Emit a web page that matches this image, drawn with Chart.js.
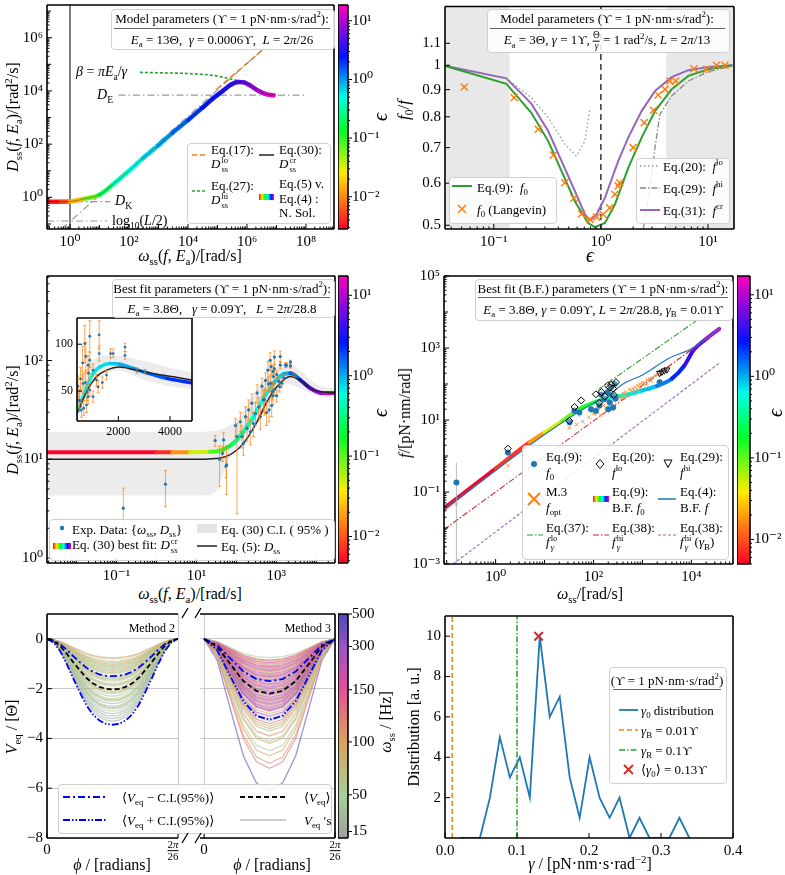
<!DOCTYPE html>
<html>
<head>
<meta charset="utf-8">
<script src="https://cdn.jsdelivr.net/npm/chart.js@4.4.1/dist/chart.umd.min.js"></script>
<style>
  body { margin: 0; background: #fff; }
  #fig { position: relative; width: 785px; height: 875px; overflow: hidden; font-family: "Liberation Serif", "DejaVu Serif", serif; color: #000; }
  #fig canvas { position: absolute; }
  .t { position: absolute; white-space: nowrap; font-size: 13px; line-height: 1; z-index: 5; }
  .l { transform: translateY(-50%); }
  .c { transform: translate(-50%, -50%); }
  .r { transform: translate(-100%, -50%); }
  .rot { transform: translate(-50%, -50%) rotate(-90deg); }
  .box { position: absolute; border: 1px solid #d0d0d0; border-radius: 4px; background: rgba(255,255,255,0.85); z-index: 4; }
  .hl { position: absolute; height: 0; border-top: 1px solid #666; z-index: 5; }
  .sw { position: absolute; z-index: 5; overflow: visible; }
  sub, sup { font-size: 68%; line-height: 0; }
  .ss { display: inline-flex; flex-direction: column; vertical-align: middle; font-size: 66%; line-height: 1.05; margin-left: 1px; }
  .fr { display: inline-flex; flex-direction: column; vertical-align: middle; font-size: 72%; line-height: 1.05; text-align: center; }
  .fr > span:first-child { border-bottom: 1px solid #000; }
</style>
</head>
<body>
<div id="fig"></div>
<script>
// ---------- top left: D_ss vs omega_ss (model, Ea = 13 Theta) ----------
const p1Omega = [0.166, 0.5, 1, 3, 10, 30, 100, 300, 1e3, 3e3, 1e4, 3e4, 7e4, 1.5e5, 3e5, 5e5, 8e5, 1.3e6, 2.5e6, 4.5e6, 8e6];
const p1D     = [0.69, 0.69, 0.70, 0.88, 1.25, 3.2, 10, 30, 91, 270, 800, 2300, 5200, 10000, 17800, 21900, 20900, 15800, 10000, 7600, 6900];
const p1Eps   = [0.003, 0.004, 0.008, 0.03, 0.13, 0.3, 0.45, 0.6, 0.8, 1.1, 1.6, 2.2, 2.6, 3.0, 3.4, 4, 5, 6.5, 9, 13, 17];
const p1LoW = [9.3e4, 3.5e6], p1LoD = [11500, 3.6e5];
const p1HiW = [234, 2.5e4, 1e5, 2.5e5, 5e5], p1HiD = [50000, 42700, 36300, 28800, 24000];
const p1DiagW = [0.52, 4e6], p1DiagD = [0.065, 4.2e5];
const p1DeW = [44, 1e8], p1De = 7000;
const p1DkW = [0.166, 23], p1Dk = 0.69;
const p1LW = [0.166, 18], p1L = 0.129;

// ---------- top right: f0/f vs epsilon ----------
const p2GreenE = [0.0336, 0.131, 0.224, 0.322, 0.429, 0.571, 0.761, 0.879, 1.09, 1.35, 1.80, 2.40, 3.20, 4.57, 6.55, 10.1, 16.9];
const p2GreenF = [1.0, 0.923, 0.814, 0.720, 0.632, 0.555, 0.505, 0.496, 0.505, 0.547, 0.641, 0.731, 0.820, 0.901, 0.955, 0.983, 1.0];
const p2CrE = [0.0336, 0.131, 0.224, 0.322, 0.429, 0.571, 0.709, 0.789, 0.910, 1.09, 1.45, 1.80, 2.40, 3.20, 4.57, 6.55, 10.1, 16.9];
const p2CrF = [1.0, 0.945, 0.847, 0.752, 0.660, 0.580, 0.524, 0.511, 0.524, 0.563, 0.660, 0.731, 0.820, 0.895, 0.950, 0.979, 0.993, 1.0];
const p2LoE = [0.131, 0.224, 0.322, 0.461, 0.591, 0.709, 0.789];
const p2LoF = [0.945, 0.869, 0.797, 0.710, 0.675, 0.720, 0.826];
const p2HiE = [2.48, 2.87, 3.20, 3.56, 4.57, 6.55, 10.1, 16.9];
const p2HiF = [0.49, 0.588, 0.700, 0.809, 0.875, 0.934, 0.973, 0.996];
const p2LangE = [0.053, 0.155, 0.26, 0.36, 0.46, 0.56, 0.66, 0.79, 0.91, 1.05, 1.21, 1.35, 1.45, 1.5, 2.0, 2.54, 3.1, 3.43, 3.97, 4.4, 5.0, 7.4, 9.7, 12, 14.4];
const p2LangF = [0.910, 0.869, 0.758, 0.678, 0.601, 0.562, 0.525, 0.513, 0.518, 0.524, 0.539, 0.572, 0.593, 0.601, 0.700, 0.780, 0.823, 0.879, 0.901, 0.934, 0.934, 0.985, 0.983, 1.0, 1.0];
const p2SpanLo = [0.035, 0.141], p2SpanHi = [4.07, 17.5];

// ---------- middle left: best fit D_ss vs omega_ss ----------
const p3FitW = [0.00182, 0.1, 1, 2.5, 7, 22, 48, 85, 151, 269, 479, 851, 1514, 2239, 3981, 7079, 15100, 29500];
const p3FitD = [11.8, 11.8, 11.8, 11.8, 11.8, 11.9, 12.6, 14.6, 19.1, 27, 41.5, 59, 73, 74.5, 63.6, 52.5, 46.8, 46.8];
const p3FitEps = [0.004, 0.004, 0.005, 0.009, 0.03, 0.08, 0.15, 0.25, 0.35, 0.5, 0.6, 0.7, 0.9, 1.1, 2.5, 5, 10, 14];
const p3EqW = [0.00182, 10, 48, 105, 186, 331, 589, 1047, 1698, 2239, 3981, 8511, 29500];
const p3EqD = [10, 10, 10.5, 12.5, 16.3, 24, 38.5, 54.6, 66, 69, 63, 50.5, 46.8];
const p3BandW  = [0.00182, 10, 27, 56, 100, 160, 316, 631, 1000, 1995, 3981, 10000, 29500];
const p3BandUp = [19, 19, 19.5, 21, 25, 32, 50, 72, 85, 95, 80, 58, 52];
const p3BandLo = [4.3, 4.3, 4.5, 8.5, 13, 17, 22, 35, 45, 58, 52, 44, 42];
const p3ExpW  = [0.148, 1.68, 29.5, 38, 45, 48, 55, 57, 95, 104, 126, 138, 151, 170, 186, 204, 224, 245, 269, 302, 331, 363, 398, 437, 479, 505, 537, 571, 617, 633, 661, 700, 724, 741, 766, 794, 828, 828, 851, 894, 894, 894, 1022, 1022, 1155, 1217, 1256, 1259, 1380, 1544, 1698, 1800, 2256, 2256, 2711, 3033];
const p3ExpD  = [3.2, 5.6, 15.5, 10, 11.5, 15.7, 8.5, 8.8, 22, 17, 24, 17, 14.5, 27, 20.6, 31.6, 19, 37, 23, 29, 47, 34, 27, 55, 40, 40, 63, 29.7, 80, 58, 31.6, 100.7, 59, 87, 35, 48.5, 77.6, 44, 69, 108.5, 83, 51, 72.3, 44, 61.7, 54.5, 110, 90, 59, 67, 90, 90, 97, 88, 72, 70.5];
const p3ExpLo = [1.2, 3.3, 13.5, 5.3, 9.5, 12.5, 6.5, 4.4, 17, 2.8, 19, 13, 11, 21, 15, 25, 14, 29, 17, 22, 37, 26, 20, 43, 30, 28, 50, 22, 62, 48, 24, 80, 48, 72, 27, 40, 68, 36, 60, 92, 75, 44, 66, 38, 55, 48, 95, 82, 53, 62, 85, 86, 92, 84, 69, 68];
const p3ExpHi = [5.1, 7.7, 17.5, 13.6, 13.5, 18.5, 10.5, 13.7, 26, 23, 30, 22, 19, 34, 27, 40, 25, 46, 30, 38, 57, 42, 35, 66, 50, 52, 75, 38, 98, 68, 40, 120, 70, 102, 43, 57, 88, 52, 78, 125, 91, 58, 79, 50, 68, 61, 125, 98, 65, 72, 95, 95, 101, 92, 75, 73];
// inset (linear axes)
const p3InFitW = [440, 633, 828, 1022, 1283, 1672, 2061, 2578, 3100, 3878, 4850];
const p3InFitD = [29.7, 43.9, 58.1, 68.8, 75.8, 79.4, 78.7, 74.1, 69.4, 63.5, 58.8];
const p3InFitEps = [0.5, 0.55, 0.6, 0.65, 0.7, 0.8, 0.9, 1.1, 1.5, 2.0, 2.5];
const p3InEqW = [440, 765, 1155, 1544, 2061, 2578, 3230, 4135, 4850];
const p3InEqD = [27.9, 49.2, 65.2, 72.3, 75.8, 73, 69.4, 65.2, 61.7];
const p3InBandW = [400, 700, 1000, 1500, 2000, 3000, 4000, 4850];
const p3InBandUp = [45, 70, 82, 88, 88, 82, 75, 70];
const p3InBandLo = [18, 40, 58, 68, 72, 62, 55, 52];

// ---------- middle right: f vs omega_ss ----------
const p4FitW = [0.088, 1, 4.9, 10, 23, 51, 112, 182, 316, 537, 1000, 2000, 4000, 7080, 11200, 20000, 37000];
const p4FitF = [0.035, 0.45, 2.4, 4.5, 9.5, 20, 32, 40, 46, 52, 66, 89, 141, 316, 891, 1780, 3390];
const p4FitEps = [0.004, 0.005, 0.012, 0.03, 0.07, 0.12, 0.2, 0.35, 0.5, 0.6, 0.8, 1.0, 1.8, 3, 4.5, 8, 15];
const p4BfW = [0.088, 112, 182, 400, 1000, 3550, 10000, 37000];
const p4BfF = [0.035, 32, 42, 100, 178, 525, 955, 3390];
const p4GloW = [126, 15800], p4GloF = [71, 7080];
const p4GhiW = [0.088, 10000], p4GhiF = [0.0091, 891];
const p4GbW = [0.135, 37000], p4GbF = [0.001, 380];
const p4F0W  = [0.158, 1.78, 32.4, 40.7, 51.3, 89, 112, 132, 145, 166, 195, 214, 229, 245, 269, 200, 251, 282, 2240];
const p4F0F  = [0.184, 1.26, 8.7, 18.2, 16.2, 20, 17.8, 25.1, 50.1, 38, 58.9, 30.9, 81.3, 47.9, 100, 20, 22.4, 39.8, 112];
const p4F0Lo = [0.0005, 0.9, 6.5, 14, 12, 15, 13, 19, 38, 29, 45, 23, 62, 36, 77, 15, 17, 30, 90];
const p4F0Hi = [0.66, 1.7, 11, 23, 21, 26, 23, 32, 65, 49, 76, 40, 105, 62, 130, 26, 29, 52, 135];
const p4LoW = [1.78, 32, 41, 56, 112, 145, 195, 229, 288, 250, 214, 170, 130, 260];
const p4LoF = [1.6, 9.5, 23, 35, 52, 60, 91, 95, 112, 75, 80, 45, 30, 50];
const p4HiW = [2240, 2500, 2800, 3160];
const p4HiF = [200, 215, 235, 250];
const p4OptW = [0.158, 1.78, 32, 45, 60, 80, 100, 120, 140, 160, 180, 200, 230, 260, 300, 330, 360, 400, 450, 500, 550, 600, 650, 700, 800, 900, 1000, 1100, 1250, 1400, 1600, 1800, 2000, 2300, 2600, 3000, 500, 700, 900, 1200, 1500, 400];
const p4OptF = [0.046, 0.54, 6, 7.5, 9, 12, 15, 20, 14, 25, 22, 30, 28, 35, 40, 45, 38, 55, 60, 50, 70, 65, 75, 80, 90, 100, 110, 105, 130, 140, 150, 170, 180, 200, 230, 260, 45, 60, 75, 95, 120, 42];

// ---------- bottom left: V_eq wells ----------
const L26 = 2 * Math.PI / 26;
const p5ProfL = [0, 0.04, 0.14, 0.29, 0.46, 0.62, 0.77, 0.88, 0.95, 0.99, 1, 0.99, 0.95, 0.88, 0.77, 0.62, 0.46, 0.29, 0.14, 0.04, 0];
const p5ProfR = [0, 0.14, 0.46, 0.77, 0.95, 1, 0.95, 0.77, 0.46, 0.14, 0];
const p5M2Depth = [-0.75, -0.8, -0.9, -0.95, -1.0, -1.05, -1.1, -1.15, -1.2, -1.25, -1.3, -1.35, -1.4, -1.5, -1.55, -1.6, -1.65, -1.7, -1.8, -1.85, -1.9, -2.0, -2.1, -2.15, -2.2, -2.3, -2.4, -2.45, -2.5, -2.6, -2.7, -2.75, -2.8, -2.9, -3.0, -3.1, -3.2, -3.3];
const p5M2Freq  = [95, 60, 90, 55, 100, 45, 85, 60, 50, 95, 40, 70, 55, 100, 45, 65, 90, 50, 40, 80, 55, 35, 95, 45, 60, 30, 50, 85, 40, 25, 60, 35, 20, 45, 25, 30, 20, 18];
const p5M3Depth = [-0.75, -0.85, -0.9, -0.95, -1.0, -1.05, -1.1, -1.15, -1.2, -1.25, -1.3, -1.35, -1.4, -1.45, -1.5, -1.55, -1.6, -1.65, -1.7, -1.75, -1.8, -1.85, -1.9, -1.95, -2.0, -2.05, -2.1, -2.15, -2.2, -2.25, -2.3, -2.35, -2.4, -2.45, -2.5, -2.55, -2.6, -2.65, -2.7, -2.75, -2.8, -2.85, -2.9, -3.0, -3.1, -3.2, -3.3, -3.4, -3.5, -3.6, -3.7, -3.9, -4.1, -4.2, -4.5, -4.7, -5.0, -5.2, -6.1];
const p5M3Freq  = [50, 150, 100, 200, 130, 90, 250, 170, 110, 300, 140, 80, 200, 120, 350, 160, 100, 280, 140, 60, 220, 180, 110, 320, 150, 90, 400, 130, 240, 170, 75, 300, 120, 190, 260, 100, 350, 150, 60, 230, 120, 420, 180, 90, 300, 110, 50, 140, 85, 95, 60, 110, 45, 100, 55, 100, 110, 130, 450];
const p5Mean = [-2.03, -2.2], p5CiLo = [-1.5, -1.7], p5CiHi = [-3.45, -3.25];
const HZ_TICKS = [15, 50, 100, 150, 300, 500];
const HZ_FRAC  = [0.029, 0.193, 0.429, 0.662, 0.855, 1.0];

// ---------- bottom right: gamma_0 distribution ----------
const p6Gamma = [0.0208, 0.0347, 0.0485, 0.0624, 0.0762, 0.0901, 0.1039, 0.1178, 0.1316, 0.1455, 0.1593, 0.1732, 0.187, 0.2009, 0.2147, 0.2286, 0.2424, 0.2563, 0.2701, 0.284, 0.2978, 0.3117, 0.3255, 0.3394];
const p6Count = [0, 0, 0, 2, 5, 3, 4, 2, 10, 6, 7, 3, 1, 4, 2, 1, 2, 0, 1, 0, 0, 0, 1, 0];
const p6GammaB = 0.01, p6GammaR = 0.1, p6Mean = 0.13;

// ===================================================================
Chart.defaults.font.family = '"Liberation Serif", "DejaVu Serif", serif';
Chart.defaults.font.size = 15;
Chart.defaults.color = '#000';
Chart.defaults.animation = false;
Chart.defaults.events = [];
Chart.defaults.plugins.legend.display = false;
Chart.defaults.plugins.tooltip.enabled = false;
Chart.defaults.elements.point.radius = 0;
Chart.defaults.elements.point.hoverRadius = 0;

const SUPS = {'-': '⁻', '0': '⁰', '1': '¹', '2': '²', '3': '³', '4': '⁴', '5': '⁵', '6': '⁶', '7': '⁷', '8': '⁸', '9': '⁹'};
function pow10(v) {
    const e = Math.round(Math.log10(v));
    return '10' + String(e).split('').map(ch => SUPS[ch]).join('');
}
function axis(type, min, max, ticks, fmt, size) {
    return {
        type: type, min: min, max: max,
        grid: {display: false, drawTicks: false}, border: {display: false},
        afterBuildTicks: s => { s.ticks = ticks.map(v => ({value: v})); },
        ticks: {callback: fmt, padding: 4, maxRotation: 0, autoSkip: false, color: '#000', font: {size: size || 15}}
    };
}
const logAx = (min, max, ticks) => axis('logarithmic', min, max, ticks, v => pow10(v));

function xy(xs, ys) { return xs.map((x, i) => ({x: x, y: ys[i]})); }
function line(xs, ys, color, width, dash, extra) {
    return Object.assign({data: xy(xs, ys), borderColor: color, backgroundColor: color, borderWidth: width,
        borderDash: dash || [], pointRadius: 0, fill: false, order: 5}, extra || {});
}
function marks(xs, ys, style, radius, color, extra) {
    return Object.assign({data: xy(xs, ys), showLine: false, pointStyle: style, pointRadius: radius,
        borderColor: color, backgroundColor: color, borderWidth: 1, order: 1}, extra || {});
}

// colour maps
const RAINBOW = [[0, '#ff0029'], [0.25, '#ffeb00'], [0.44, '#00ff28'], [0.59, '#00ffe6'], [0.77, '#0014ff'], [1, '#ff00bf']];
const HZMAP = [[0, '#a0a0a0'], [0.19, '#a6cf98'], [0.43, '#d9a15f'], [0.55, '#e07a75'], [0.66, '#e5509a'], [0.85, '#9a55c2'], [1, '#4b4bb8']];
function hex(h) { return [1, 3, 5].map(i => parseInt(h.substr(i, 2), 16)); }
function sample(stops, f, alpha) {
    f = Math.min(1, Math.max(0, f));
    let k = 0;
    while (k < stops.length - 2 && f > stops[k + 1][0]) k++;
    const t = (f - stops[k][0]) / (stops[k + 1][0] - stops[k][0]);
    const a = hex(stops[k][1]), b = hex(stops[k + 1][1]);
    const c = a.map((v, i) => Math.round(v + (b[i] - v) * t));
    return 'rgba(' + c[0] + ',' + c[1] + ',' + c[2] + ',' + (alpha == null ? 1 : alpha) + ')';
}
function epsColor(lo, hi) {
    return e => sample(RAINBOW, (Math.log10(e) - Math.log10(lo)) / (Math.log10(hi) - Math.log10(lo)));
}
function hzFrac(f) {
    if (f <= HZ_TICKS[0]) return HZ_FRAC[0] * f / HZ_TICKS[0];
    for (let k = 0; k < HZ_TICKS.length - 1; k++) {
        if (f <= HZ_TICKS[k + 1]) return HZ_FRAC[k] + (HZ_FRAC[k + 1] - HZ_FRAC[k]) * (f - HZ_TICKS[k]) / (HZ_TICKS[k + 1] - HZ_TICKS[k]);
    }
    return 1;
}
function rainbowLine(xs, ys, eps, lo, hi, width) {
    const col = epsColor(lo, hi);
    return line(xs, ys, col(eps[0]), width, [], {
        cubicInterpolationMode: 'monotone', borderCapStyle: 'round', order: 4,
        segment: {borderColor: c => col(Math.sqrt(eps[c.p0DataIndex] * eps[c.p1DataIndex]))}
    });
}

// frame (spines) + inward ticks
const framePlugin = {
    id: 'frame',
    defaults: {sides: 'ltrb', width: 1.6, cb: false, minor: 'xy', white: false, noTicks: ''},
    beforeDatasetsDraw(chart, args, o) {
        if (!o.white) return;
        const a = chart.chartArea;
        chart.ctx.save();
        chart.ctx.fillStyle = '#fff';
        chart.ctx.fillRect(a.left, a.top, a.right - a.left, a.bottom - a.top);
        chart.ctx.restore();
    },
    afterDraw(chart, args, o) {
        const ctx = chart.ctx, a = chart.chartArea;
        ctx.save();
        ctx.strokeStyle = '#000';
        ctx.lineWidth = 1;
        Object.values(chart.scales).forEach(s => {
            if (!s.options.display) return;
            const horiz = s.isHorizontal();
            const id = horiz ? 'x' : 'y';
            if (o.noTicks.indexOf(id) >= 0) return;
            const vals = s.ticks.map(t => [t.value, 5]);
            if (s.type === 'logarithmic' && o.minor.indexOf(id) >= 0) {
                const majors = new Set(s.ticks.map(t => Math.round(Math.log10(t.value))));
                const e0 = Math.floor(Math.log10(s.min)), e1 = Math.ceil(Math.log10(s.max));
                for (let e = e0; e <= e1; e++) {
                    for (let m = 1; m < 10; m++) {
                        if (m === 1 && majors.has(e)) continue;
                        vals.push([m * Math.pow(10, e), m === 1 ? 4 : 2.5]);
                    }
                }
            }
            vals.forEach(([v, len]) => {
                if (v < s.min * 0.9999 || v > s.max * 1.0001) return;
                const p = s.getPixelForValue(v);
                ctx.beginPath();
                if (horiz) { ctx.moveTo(p, a.bottom); ctx.lineTo(p, a.bottom - len); }
                else if (o.cb) { ctx.moveTo(a.right, p); ctx.lineTo(a.right + len * 0.8, p); }
                else { ctx.moveTo(a.left, p); ctx.lineTo(a.left + len, p); }
                ctx.stroke();
            });
        });
        ctx.lineWidth = o.width;
        ctx.beginPath();
        if (o.sides.indexOf('l') >= 0) { ctx.moveTo(a.left, a.top); ctx.lineTo(a.left, a.bottom); }
        if (o.sides.indexOf('r') >= 0) { ctx.moveTo(a.right, a.top); ctx.lineTo(a.right, a.bottom); }
        if (o.sides.indexOf('t') >= 0) { ctx.moveTo(a.left, a.top); ctx.lineTo(a.right, a.top); }
        if (o.sides.indexOf('b') >= 0) { ctx.moveTo(a.left, a.bottom); ctx.lineTo(a.right, a.bottom); }
        ctx.stroke();
        ctx.restore();
    }
};
// vertical error bars taken from dataset.errLo / dataset.errHi
const errPlugin = {
    id: 'errbars',
    beforeDatasetDraw(chart, args) {
        const ds = chart.data.datasets[args.index];
        if (!ds.errLo) return;
        const xs = chart.scales[args.meta.xAxisID], ys = chart.scales[args.meta.yAxisID];
        const ctx = chart.ctx, a = chart.chartArea;
        ctx.save();
        ctx.beginPath();
        ctx.rect(a.left, a.top, a.right - a.left, a.bottom - a.top);
        ctx.clip();
        ctx.strokeStyle = ds.errColor;
        ctx.lineWidth = 1;
        ds.data.forEach((p, i) => {
            const x = xs.getPixelForValue(p.x);
            const y1 = ys.getPixelForValue(ds.errLo[i]), y2 = ys.getPixelForValue(ds.errHi[i]);
            ctx.beginPath();
            ctx.moveTo(x, y1); ctx.lineTo(x, y2);
            if (ds.errCap) {
                ctx.moveTo(x - ds.errCap, y1); ctx.lineTo(x + ds.errCap, y1);
                ctx.moveTo(x - ds.errCap, y2); ctx.lineTo(x + ds.errCap, y2);
            }
            ctx.stroke();
        });
        ctx.restore();
    }
};
Chart.register(framePlugin, errPlugin);

const fig = document.getElementById('fig');
// places a canvas so that the plot area lands on rect (page pixels)
function mk(rect, pad, cfg) {
    const cv = document.createElement('canvas');
    const w = rect.r - rect.l + pad.l + pad.r, h = rect.b - rect.t + pad.t + pad.b;
    cv.width = w; cv.height = h;
    cv.style.left = (rect.l - pad.l) + 'px';
    cv.style.top = (rect.t - pad.t) + 'px';
    cv.style.width = w + 'px';
    cv.style.height = h + 'px';
    fig.appendChild(cv);
    const o = cfg.options;
    o.responsive = false;
    o.animation = false;
    let yl = false, yr = false, xb = false;
    for (const [id, s] of Object.entries(o.scales)) {
        if (s.display === false) continue;
        if (id[0] === 'x') {
            xb = true;
            s.afterFit = sc => { sc.height = pad.b; sc.paddingLeft = 0; sc.paddingRight = 0; };
        } else if (s.position === 'right') {
            yr = true;
            s.afterFit = sc => { sc.width = pad.r; sc.paddingTop = 0; sc.paddingBottom = 0; };
        } else {
            yl = true;
            s.afterFit = sc => { sc.width = pad.l; sc.paddingTop = 0; sc.paddingBottom = 0; };
        }
    }
    o.layout = {padding: {left: yl ? 0 : pad.l, right: yr ? 0 : pad.r, top: pad.t, bottom: xb ? 0 : pad.b}};
    return new Chart(cv, cfg);
}
function grad(chart, stops) {
    const a = chart.chartArea;
    if (!a) return '#888';
    const g = chart.ctx.createLinearGradient(0, a.bottom, 0, a.top);
    stops.forEach(s => g.addColorStop(s[0], s[1]));
    return g;
}
function colorbar(rect, yScale, stops) {
    yScale.position = 'right';
    return mk(rect, {l: 0, t: 10, r: 40, b: 10}, {
        type: 'bar',
        data: {labels: ['c'], datasets: [{data: [[yScale.min, yScale.max]], barPercentage: 1, categoryPercentage: 1,
            borderWidth: 0, backgroundColor: c => grad(c.chart, stops)}]},
        options: {scales: {x: {display: false}, y: yScale}, plugins: {frame: {cb: true, width: 1.6, minor: 'y'}}}
    });
}

const GRAYDD = [7, 3, 1.5, 3];

// ---------- panel 1 ----------
mk({l: 47, t: 5, r: 334, b: 229}, {l: 40, t: 5, r: 4, b: 24}, {
    type: 'line',
    data: {datasets: [
        line([1, 1], [0.0646, 1.7e7], '#000', 1, [], {order: 9}),
        line(p1LW, [p1L, p1L], '#999', 1.2, GRAYDD),
        line(p1DkW, [p1Dk, p1Dk], '#999', 1.2, GRAYDD),
        line(p1DeW, [p1De, p1De], '#999', 1.2, GRAYDD),
        line(p1DiagW, p1DiagD, '#999', 1.2, GRAYDD),
        line(p1HiW, p1HiD, '#2ca02c', 1.6, [3, 2], {cubicInterpolationMode: 'monotone'}),
        line(p1LoW, p1LoD, '#ff7f0e', 1.6, [6, 3]),
        rainbowLine(p1Omega, p1D, p1Eps, 0.00282, 18.6, 4.5),
        line(p1Omega, p1D, 'rgba(0,0,0,0.45)', 0.8, [], {cubicInterpolationMode: 'monotone', order: 3})
    ]},
    options: {scales: {x: logAx(0.166, 8.9e8, [1, 1e2, 1e4, 1e6, 1e8]), y: logAx(0.0646, 1.7e7, [1, 1e2, 1e4, 1e6])}}
});
colorbar({l: 338, t: 5, r: 348, b: 229}, logAx(0.00282, 18.6, [0.01, 0.1, 1, 10]), RAINBOW);

// ---------- panel 2 ----------
mk({l: 445, t: 5, r: 734, b: 229}, {l: 45, t: 5, r: 10, b: 24}, {
    type: 'line',
    data: {datasets: [
        line(p2SpanLo, [1.3, 1.3], '#e8e8e8', 0, [], {fill: 'start', order: 20}),
        line(p2SpanHi, [1.3, 1.3], '#e8e8e8', 0, [], {fill: 'start', order: 20}),
        line([1, 1], [0.49, 1.3], '#000', 1.2, [6, 4], {order: 8}),
        line(p2LoE, p2LoF, '#999', 1.3, [1.5, 2.5]),
        line(p2HiE, p2HiF, '#888', 1.3, [6, 2, 1.5, 2]),
        line(p2GreenE, p2GreenF, '#2ca02c', 2),
        line(p2CrE, p2CrF, '#9467bd', 2),
        marks(p2LangE, p2LangF, 'crossRot', 5, '#ff7f0e', {borderWidth: 1.5})
    ]},
    options: {
        scales: {
            x: logAx(0.035, 17.5, [0.1, 1, 10]),
            y: axis('logarithmic', 0.492, 1.29, [0.5, 0.6, 0.7, 0.8, 0.9, 1, 1.1], v => String(v))
        },
        plugins: {frame: {minor: 'x'}}
    }
});

// ---------- panel 3 ----------
const expDots = (w, d, r) => marks(w, d, 'circle', r, '#1f77b4', {borderWidth: 0,
    errLo: p3ExpLo, errHi: p3ExpHi, errColor: 'rgba(255,127,14,0.7)', errCap: 1.5});
mk({l: 47, t: 276, r: 335, b: 563}, {l: 40, t: 8, r: 6, b: 22}, {
    type: 'line',
    data: {datasets: [
        line(p3BandW, p3BandUp, 'rgba(0,0,0,0)', 0, [], {fill: '+1', backgroundColor: 'rgba(210,210,210,0.42)', order: 20, cubicInterpolationMode: 'monotone'}),
        line(p3BandW, p3BandLo, 'rgba(0,0,0,0)', 0, [], {order: 20, cubicInterpolationMode: 'monotone'}),
        rainbowLine(p3FitW, p3FitD, p3FitEps, 0.00468, 17.4, 4),
        line(p3EqW, p3EqD, '#222', 1.5, [], {cubicInterpolationMode: 'monotone', order: 3}),
        expDots(p3ExpW, p3ExpD, 1.6)
    ]},
    options: {scales: {x: logAx(0.00182, 29500, [0.1, 10, 1000]), y: logAx(0.89, 719, [1, 10, 100])}}
});
mk({l: 77, t: 318, r: 192, b: 421}, {l: 28, t: 4, r: 8, b: 16}, {
    type: 'line',
    data: {datasets: [
        line(p3InBandW, p3InBandUp, 'rgba(0,0,0,0)', 0, [], {fill: '+1', backgroundColor: 'rgba(210,210,210,0.42)', order: 20, cubicInterpolationMode: 'monotone'}),
        line(p3InBandW, p3InBandLo, 'rgba(0,0,0,0)', 0, [], {order: 20, cubicInterpolationMode: 'monotone'}),
        rainbowLine(p3InFitW, p3InFitD, p3InFitEps, 0.00468, 17.4, 3.5),
        line(p3InEqW, p3InEqD, '#222', 1.5, [], {cubicInterpolationMode: 'monotone', order: 3}),
        expDots(p3ExpW, p3ExpD, 1.4)
    ]},
    options: {
        scales: {
            x: axis('linear', 400, 4850, [2000, 4000], v => String(v), 12),
            y: axis('linear', 18, 128, [50, 100], v => String(v), 12)
        },
        plugins: {frame: {white: true, width: 1.6}}
    }
});
colorbar({l: 338, t: 276, r: 348, b: 563}, logAx(0.00468, 17.4, [0.01, 0.1, 1, 10]), RAINBOW);

// ---------- panel 4 ----------
mk({l: 444, t: 276, r: 733, b: 564}, {l: 44, t: 10, r: 6, b: 22}, {
    type: 'line',
    data: {datasets: [
        line(p4GbW, p4GbF, '#9467bd', 1.1, [3, 2]),
        line(p4GhiW, p4GhiF, '#d62728', 1.1, [6, 2, 1.5, 2]),
        line(p4GloW, p4GloF, '#2ca02c', 1.1, [6, 2, 1.5, 2]),
        rainbowLine(p4FitW, p4FitF, p4FitEps, 0.005, 17, 4),
        line(p4BfW, p4BfF, '#1f77b4', 1.2, [], {cubicInterpolationMode: 'monotone', order: 3}),
        marks(p4OptW, p4OptF, 'crossRot', 2.5, 'rgba(255,127,14,0.75)', {order: 2}),
        marks(p4F0W, p4F0F, 'circle', 3, '#1f77b4', {borderWidth: 0, errLo: p4F0Lo, errHi: p4F0Hi, errColor: 'rgba(170,170,170,0.8)', order: 1}),
        marks(p4LoW, p4LoF, 'rectRot', 3.5, '#000', {backgroundColor: 'rgba(255,255,255,0.2)', order: 0}),
        marks(p4HiW, p4HiF, 'triangle', 3.5, '#000', {backgroundColor: 'rgba(255,255,255,0.2)', rotation: 180, order: 0})
    ]},
    options: {scales: {x: logAx(0.0881, 70800, [1, 100, 10000]), y: logAx(0.001, 1e5, [1e-3, 0.1, 10, 1e3, 1e5])}}
});
colorbar({l: 737, t: 276, r: 750, b: 564}, logAx(0.005, 17, [0.01, 0.1, 1, 10]), RAINBOW);

// ---------- panel 5 ----------
const phiL = p5ProfL.map((_, i) => L26 * i / 20);
const phiR = p5ProfR.map((_, i) => L26 * i / 10);
function wells(depths, freqs, phi, prof) {
    return depths.map((d, k) => line(phi, prof.map(v => v * d), sample(HZMAP, hzFrac(freqs[k]), 0.6), 1.3, [], {order: 6}));
}
function meanLines(k, phi, prof) {
    return [
        line(phi, prof.map(v => v * p5CiLo[k]), '#0000ff', 1.8, [7, 3, 2, 3], {order: 2}),
        line(phi, prof.map(v => v * p5CiHi[k]), '#0000ff', 1.8, [7, 2, 1.5, 2, 1.5, 2], {order: 2}),
        line(phi, prof.map(v => v * p5Mean[k]), '#000', 1.8, [5, 3], {order: 1})
    ];
}
function p5Scales(xmin, yTicks) {
    const x = axis('linear', xmin, L26, [0, L26], () => '');
    x.ticks.display = false;
    x.grid = {display: true, color: '#c8c8c8', drawTicks: false};
    const y = axis('linear', -8, 1, [-8, -6, -4, -2, 0], v => String(v).replace('-', '−'));
    y.grid = {display: true, color: '#c8c8c8', drawTicks: false};
    if (!yTicks) y.ticks.display = false;
    return {x: x, y: y};
}
mk({l: 47, t: 614, r: 178, b: 838}, {l: 36, t: 4, r: 2, b: 4}, {
    type: 'line',
    data: {datasets: wells(p5M2Depth, p5M2Freq, phiL, p5ProfL).concat(meanLines(0, phiL, p5ProfL))},
    options: {scales: p5Scales(0, true), plugins: {frame: {sides: 'ltb'}}}
});
mk({l: 200, t: 614, r: 335, b: 838}, {l: 0, t: 4, r: 2, b: 4}, {
    type: 'line',
    data: {datasets: wells(p5M3Depth, p5M3Freq, phiR, p5ProfR).concat(meanLines(1, phiR, p5ProfR))},
    options: {scales: p5Scales(-0.0075, false), plugins: {frame: {sides: 'rtb', noTicks: 'y'}}}
});
colorbar({l: 338, t: 614, r: 348, b: 838},
    axis('linear', 0, 1, HZ_FRAC, v => String(HZ_TICKS[HZ_FRAC.indexOf(v)])), HZMAP);

// ---------- panel 6 ----------
mk({l: 445, t: 613, r: 733, b: 838}, {l: 45, t: 5, r: 15, b: 22}, {
    type: 'line',
    data: {datasets: [
        line([p6GammaB, p6GammaB], [0, 11], '#ff7f0e', 1.5, [5, 3]),
        line([p6GammaR, p6GammaR], [0, 11], '#2ca02c', 1.5, [6, 2, 1.5, 2]),
        line(p6Gamma, p6Count, '#1f77b4', 1.8),
        marks([p6Mean], [10], 'crossRot', 6, '#d62728', {borderWidth: 2})
    ]},
    options: {scales: {
        x: axis('linear', 0, 0.4, [0, 0.1, 0.2, 0.3, 0.4], v => v.toFixed(1)),
        y: axis('linear', 0, 11, [2, 4, 6, 8, 10], v => String(v))
    }}
});

// ===================================================================
// text, legends and annotation boxes
function T(x, y, html, cls, size) {
    const d = document.createElement('div');
    d.className = 't ' + (cls || 'l');
    d.style.left = x + 'px';
    d.style.top = y + 'px';
    if (size) d.style.fontSize = size + 'px';
    d.innerHTML = html;
    fig.appendChild(d);
}
function B(x, y, w, h) {
    const d = document.createElement('div');
    d.className = 'box';
    Object.assign(d.style, {left: x + 'px', top: y + 'px', width: w + 'px', height: h + 'px'});
    fig.appendChild(d);
}
function HL(x, y, w) {
    const d = document.createElement('div');
    d.className = 'hl';
    Object.assign(d.style, {left: x + 'px', top: y + 'px', width: w + 'px'});
    fig.appendChild(d);
}
function S(x, y, w, h, inner) {
    const ns = 'http://www.w3.org/2000/svg';
    const s = document.createElementNS(ns, 'svg');
    s.setAttribute('class', 'sw');
    s.setAttribute('width', w); s.setAttribute('height', h);
    s.style.left = x + 'px'; s.style.top = y + 'px';
    s.innerHTML = inner;
    fig.appendChild(s);
}
const ln = (w, color, dash, lw) => '<line x1="0" y1="3" x2="' + w + '" y2="3" stroke="' + color + '" stroke-width="' + (lw || 1.5) + '" stroke-dasharray="' + (dash || '') + '"/>';
const SW = (x, y, w, color, dash, lw) => S(x, y - 3, w, 6, ln(w, color, dash, lw));
function RB(x, y, w) {
    const d = document.createElement('div');
    Object.assign(d.style, {position: 'absolute', left: x + 'px', top: (y - 3) + 'px', width: w + 'px', height: '6px', zIndex: 5,
        background: 'linear-gradient(to right, #ff0029, #ffeb00, #00ff28, #00ffe6, #0014ff, #ff00bf)'});
    fig.appendChild(d);
}
const SS = (a, b) => '<span class="ss"><span>' + a + '</span><span>' + b + '</span></span>';
const FR = (a, b) => '<span class="fr"><span>' + a + '</span><span>' + b + '</span></span>';
const Ea = '<i>E</i><sub>a</sub>';
const UP = 'ϒ';
const UPS = '(' + UP + ' = 1 pN·nm·s/rad<sup>2</sup>):';
const XSV = (x, y, s, color, lw) => S(x - s, y - s, 2 * s, 2 * s,
    '<path d="M0 0L' + 2 * s + ' ' + 2 * s + 'M' + 2 * s + ' 0L0 ' + 2 * s + '" stroke="' + color + '" stroke-width="' + lw + '"/>');

// panel 1 text
B(111, 9, 222, 39);
T(222, 18, 'Model parameters ' + UPS, 'c');
HL(114, 28, 216);
T(222, 39, Ea + ' = 13Θ,&nbsp; <i>γ</i> = 0.0006' + UP + ',&nbsp; <i>L</i> = 2<i>π</i>/26', 'c');
T(76, 72, '<i>β</i> = <i>πE</i><sub>a</sub>/<i>γ</i>', 'l', 14);
T(105, 95, '<i>D</i><sub>E</sub>', 'c', 14);
T(115, 201, '<i>D</i><sub>K</sub>', 'l', 14);
T(112, 221, 'log<sub>10</sub>(<i>L</i>/2)', 'l', 14);
B(187, 143, 142, 79);
SW(192, 155, 15, '#ff7f0e', '5 3');
T(211, 149, 'Eq.(17):'); T(211, 165, '<i>D</i>' + SS('lo', 'ss'));
SW(259, 155, 15, '#000', '', 1.3);
T(279, 149, 'Eq.(30):'); T(279, 165, '<i>D</i>' + SS('cr', 'ss'));
SW(192, 191, 15, '#2ca02c', '3 2');
T(211, 185, 'Eq.(27):'); T(211, 201, '<i>D</i>' + SS('hi', 'ss'));
RB(259, 197, 15);
T(279, 183, 'Eq.(5) v.'); T(279, 198, 'Eq.(4) :'); T(279, 212, 'N. Sol.');
T(190, 256, '<i>ω</i><sub>ss</sub>(<i>f</i>, ' + Ea + ')/[rad/s]', 'c', 16);
T(13, 117, '<i>D</i><sub>ss</sub>(<i>f</i>, ' + Ea + ')/[rad<sup>2</sup>/s]', 'rot', 16);
T(380, 117, '<i>ϵ</i>', 'rot', 20);

// panel 2 text
B(487, 9, 241, 42);
T(607, 18, 'Model parameters ' + UPS, 'c');
HL(490, 28, 235);
T(607, 41, Ea + ' = 3Θ, <i>γ</i> = 1' + UP + ', ' + FR('Θ', '<i>γ</i>') + ' = 1 rad<sup>2</sup>/s, <i>L</i> = 2<i>π</i>/13', 'c');
B(449, 177, 106, 45);
SW(452, 186, 20, '#2ca02c', '', 2);
T(477, 187, 'Eq.(9):&nbsp; <i>f</i><sub>0</sub>');
XSV(462, 209, 4, '#ff7f0e', 1.5);
T(477, 209, '<i>f</i><sub>0</sub> (Langevin)');
B(636, 158, 92, 64);
SW(640, 166, 20, '#999', '1.5 2.5', 1.3);
T(663, 166, 'Eq.(20):&nbsp; <i>f</i><sup>lo</sup>');
SW(640, 188, 20, '#888', '6 2 1.5 2', 1.3);
T(663, 188, 'Eq.(29):&nbsp; <i>f</i><sup>hi</sup>');
SW(640, 210, 20, '#9467bd', '', 2);
T(663, 210, 'Eq.(31):&nbsp; <i>f</i><sup>cr</sup>');
T(590, 255, '<i>ϵ</i>', 'c', 20);
T(403, 110, '<i>f</i><sub>0</sub>/<i>f</i>', 'rot', 17);

// panel 3 text
B(112, 279, 221, 37);
T(222, 288, 'Best fit parameters ' + UPS, 'c');
HL(115, 297, 215);
T(222, 308, Ea + ' = 3.8Θ,&nbsp;&nbsp; <i>γ</i> = 0.09' + UP + ',&nbsp;&nbsp; <i>L</i> = 2<i>π</i>/28.8', 'c');
B(49, 519, 284, 40);
S(59, 525, 6, 6, '<circle cx="3" cy="3" r="2.2" fill="#1f77b4"/>');
T(72, 529, 'Exp. Data: {<i>ω</i><sub>ss</sub>, <i>D</i><sub>ss</sub>}');
(function () {
    const d = document.createElement('div');
    Object.assign(d.style, {position: 'absolute', left: '197px', top: '524px', width: '20px', height: '9px', background: '#e4e4e4', zIndex: 5});
    fig.appendChild(d);
})();
T(221, 529, 'Eq. (30) C.I. ( 95% )');
RB(53, 546, 18);
T(72, 546, 'Eq. (30) best fit: <i>D</i>' + SS('cr', 'ss'));
SW(197, 546, 20, '#222', '', 1.5);
T(221, 546, 'Eq. (5): <i>D</i><sub>ss</sub>');
T(190, 594, '<i>ω</i><sub>ss</sub>(<i>f</i>, ' + Ea + ')/[rad/s]', 'c', 16);
T(13, 420, '<i>D</i><sub>ss</sub>(<i>f</i>, ' + Ea + ')/[rad<sup>2</sup>/s]', 'rot', 16);
T(380, 413, '<i>ϵ</i>', 'rot', 20);

// panel 4 text
B(475, 279, 256, 40);
T(603, 288, 'Best fit (B.F.) parameters ' + UPS, 'c');
HL(478, 297, 250);
T(603, 309, Ea + ' = 3.8Θ, <i>γ</i> = 0.09' + UP + ', <i>L</i> = 2<i>π</i>/28.8, <i>γ</i><sub>B</sub> = 0.01' + UP, 'c');
B(522, 445, 205, 113);
S(530, 460, 8, 8, '<circle cx="4" cy="4" r="3" fill="#1f77b4"/>');
T(546, 456, 'Eq.(9):'); T(546, 472, '<i>f</i><sub>0</sub>');
S(595, 459, 10, 10, '<path d="M5 0.5L9 5L5 9.5L1 5Z" fill="none" stroke="#000"/>');
T(612, 456, 'Eq.(20):'); T(612, 472, '<i>f</i><sup>lo</sup>');
S(663, 459, 10, 10, '<path d="M1 1L9 1L5 8.5Z" fill="none" stroke="#000"/>');
T(680, 456, 'Eq.(29):'); T(680, 472, '<i>f</i><sup>hi</sup>');
XSV(534, 499, 6, '#ff7f0e', 2);
T(546, 491, 'M.3'); T(546, 507, '<i>f</i><sub>opt</sub>');
RB(593, 499, 16);
T(612, 491, 'Eq.(9):'); T(612, 507, 'B.F. <i>f</i><sub>0</sub>');
SW(658, 499, 18, '#1f77b4', '', 1.5);
T(680, 491, 'Eq.(4):'); T(680, 507, 'B.F. <i>f</i>');
SW(527, 535, 16, '#2ca02c', '6 2 1.5 2', 1.1);
T(546, 527, 'Eq.(37):'); T(546, 543, '<i>f</i>' + SS('lo', '<i>γ</i>'));
SW(593, 535, 16, '#d62728', '6 2 1.5 2', 1.1);
T(612, 527, 'Eq.(38):'); T(612, 543, '<i>f</i>' + SS('hi', '<i>γ</i>'));
SW(658, 535, 18, '#9467bd', '3 2', 1.1);
T(680, 527, 'Eq.(38):'); T(680, 543, '<i>f</i>' + SS('hi', '<i>γ</i>') + ' (<i>γ</i><sub>B</sub>)');
T(590, 594, '<i>ω</i><sub>ss</sub>/[rad/s]', 'c', 16);
T(405, 413, '<i>f</i>/[pN·nm/rad]', 'rot', 16);
T(775, 413, '<i>ϵ</i>', 'rot', 20);

// panel 5 text
T(175, 628, 'Method 2', 'r', 12);
T(331, 628, 'Method 3', 'r', 12);
B(58, 784, 272, 48);
SW(63, 797, 44, '#0000ff', '7 3 2 3', 1.8);
T(122, 797, '⟨<i>V</i><sub>eq</sub> − C.I.(95%)⟩');
SW(240, 797, 46, '#000', '5 3', 1.8);
T(304, 797, '⟨<i>V</i><sub>eq</sub>⟩');
SW(63, 820, 44, '#0000ff', '7 2 1.5 2 1.5 2', 1.8);
T(122, 820, '⟨<i>V</i><sub>eq</sub> + C.I.(95%)⟩');
SW(240, 820, 46, '#bbbbbb', '', 1.5);
T(304, 820, '<i>V</i><sub>eq</sub> ′s');
T(47, 849, '0', 'c', 15);
T(173, 851, FR('2<i>π</i>', '26'), 'c', 15);
T(204, 849, '0', 'c', 15);
T(335, 851, FR('2<i>π</i>', '26'), 'c', 15);
T(112, 865, '<i>ϕ</i> / [radians]', 'c', 16);
T(272, 865, '<i>ϕ</i> / [radians]', 'c', 16);
T(12, 727, '<i>V</i><sub>eq</sub> / [Θ]', 'rot', 16);
T(386, 722, '<i>ω</i><sub>ss</sub> / [Hz]', 'rot', 16);
S(180, 606, 26, 14, '<path d="M2 12L8 2M15 12L21 2" stroke="#000" stroke-width="1.3"/>');
S(180, 831, 26, 14, '<path d="M2 12L8 2M15 12L21 2" stroke="#000" stroke-width="1.3"/>');

// panel 6 text
B(609, 667, 116, 115);
T(667, 680, '(' + UP + ' = 1 pN·nm·s/rad<sup>2</sup>)', 'c');
HL(613, 689, 108);
SW(619, 710, 19, '#1f77b4', '', 1.8);
T(641, 710, '<i>γ</i><sub>0</sub> distribution');
SW(619, 730, 19, '#ff7f0e', '5 3', 1.5);
T(641, 730, '<i>γ</i><sub>B</sub> = 0.01' + UP);
SW(619, 750, 19, '#2ca02c', '6 2 1.5 2', 1.5);
T(641, 750, '<i>γ</i><sub>R</sub> = 0.1' + UP);
XSV(628, 769, 4.5, '#d62728', 1.8);
T(641, 769, '⟨<i>γ</i><sub>0</sub>⟩ = 0.13' + UP);
T(414, 727, 'Distribution [a. u.]', 'rot', 16);
T(590, 864, '<i>γ</i> / [pN·nm·s·rad<sup>−2</sup>]', 'c', 16);
</script>
</body>
</html>
